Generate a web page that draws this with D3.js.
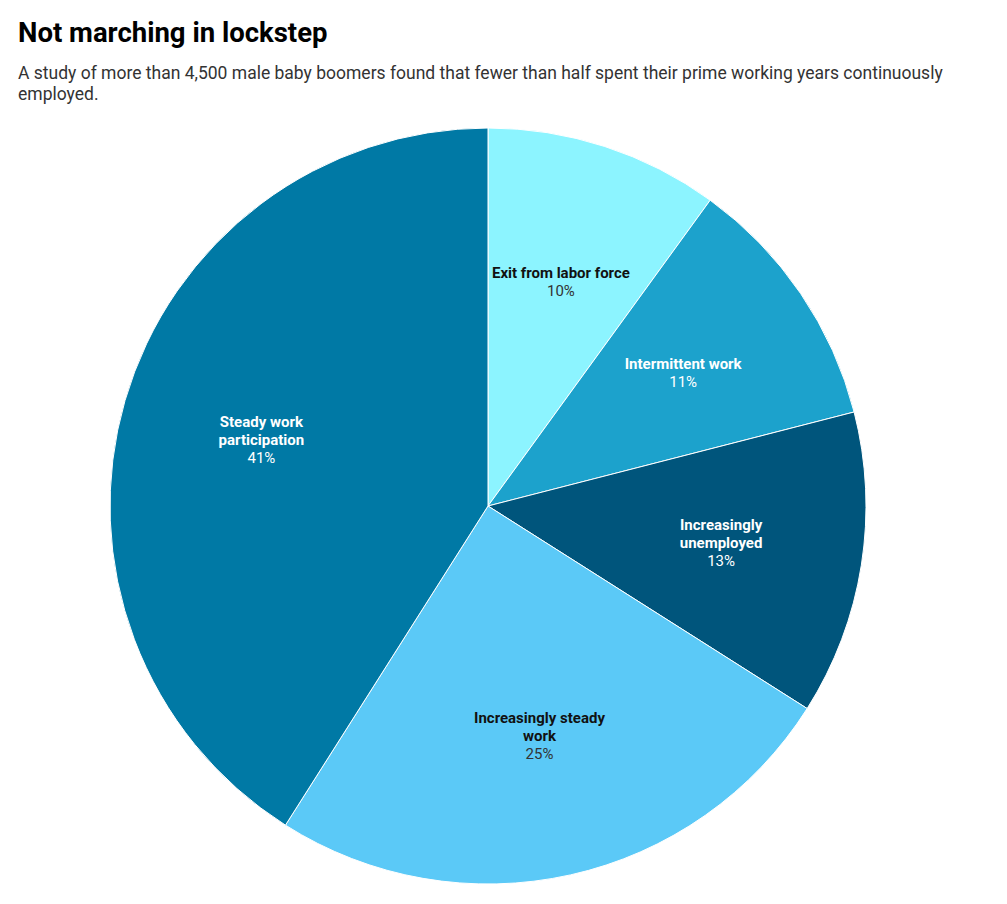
<!DOCTYPE html>
<html>
<head>
<meta charset="utf-8">
<script src="https://cdn.jsdelivr.net/npm/d3@7"></script>
<style>
  html, body { margin: 0; padding: 0; background: #fff; }
  body { width: 1007px; height: 904px; overflow: hidden; font-family: Roboto, "Noto Sans", sans-serif; }
  svg text { font-family: Roboto, sans-serif; }
</style>
</head>
<body>
<svg id="chart" width="1007" height="904"></svg>
<script>
const categories = ["Exit from labor force", "Intermittent work", "Increasingly unemployed", "Increasingly steady work", "Steady work participation"];
const values = [10, 11, 13, 25, 41];
const colors = ["#8cf4ff", "#1ca2cc", "#00557c", "#5bc9f7", "#0079a5"];
const labelColors = ["#111", "#fff", "#fff", "#111", "#fff"];
const pctColors = ["#333", "#fff", "#fff", "#333", "#fff"];

const svg = d3.select("#chart");

svg.append("text").attr("x", 18).attr("y", 42)
  .attr("font-size", 27.5).attr("font-weight", 700).attr("fill", "#000")
  .text("Not marching in lockstep");

const sub = svg.append("text").attr("x", 18).attr("y", 79)
  .attr("font-size", 17.5).attr("fill", "#333");
sub.append("tspan").attr("x", 18).text("A study of more than 4,500 male baby boomers found that fewer than half spent their prime working years continuously");
sub.append("tspan").attr("x", 18).attr("dy", 21).text("employed.");

const cx = 488, cy = 506, r = 378;
const data = categories.map((c, i) => ({ name: c, value: values[i], i }));
const pie = d3.pie().sort(null).value(d => d.value);
const arcs = pie(data);
const arc = d3.arc().innerRadius(0).outerRadius(r);

const g = svg.append("g").attr("transform", `translate(${cx},${cy})`);
g.selectAll("path").data(arcs).join("path")
  .attr("d", arc)
  .attr("fill", d => colors[d.data.i])
  .attr("stroke", "#fff").attr("stroke-width", 1);

const lr = 236;
const lineH = 18;
const wrapWidth = 160;
const fs = 15;

arcs.forEach(a => {
  const mid = (a.startAngle + a.endAngle) / 2;
  const lx = lr * Math.sin(mid), ly = -lr * Math.cos(mid);
  const t = g.append("text").attr("text-anchor", "middle").attr("font-size", fs);
  const words = a.data.name.split(" ");
  let lines = [];
  let cur = [];
  const probe = g.append("text").attr("font-size", fs).attr("font-weight", 700);
  words.forEach(w => {
    const test = cur.concat([w]).join(" ");
    probe.text(test);
    if (probe.node().getComputedTextLength() > wrapWidth && cur.length) {
      lines.push(cur.join(" "));
      cur = [w];
    } else cur.push(w);
  });
  lines.push(cur.join(" "));
  probe.remove();
  const total = lines.length + 1;
  const startY = ly - (total - 1) * lineH / 2 + 5;
  lines.forEach((ln, k) => {
    t.append("tspan").attr("x", lx).attr("y", startY + k * lineH)
      .attr("font-weight", 700).attr("fill", labelColors[a.data.i]).text(ln);
  });
  t.append("tspan").attr("x", lx).attr("y", startY + lines.length * lineH)
    .attr("fill", pctColors[a.data.i]).text(a.data.value + "%");
});
</script>
</body>
</html>
